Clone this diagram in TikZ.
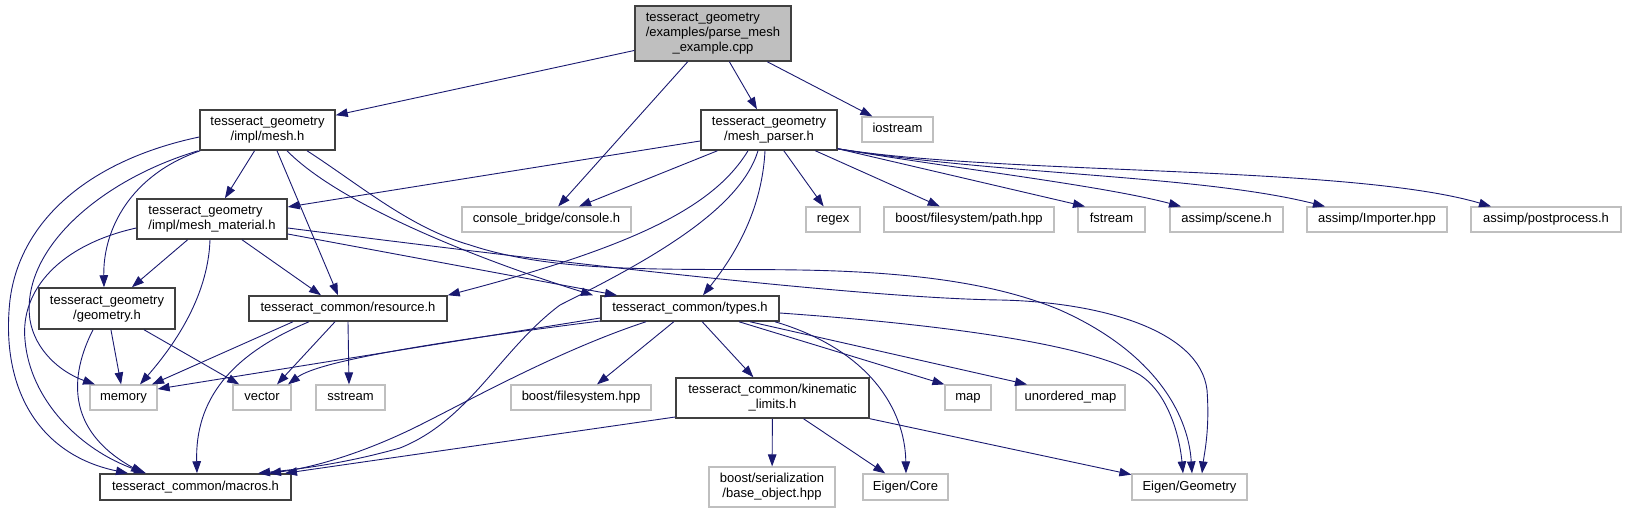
\documentclass[tikz,border=0pt]{standalone}
\usepackage{fontspec}
\setmainfont{Liberation Sans}
\usetikzlibrary{arrows.meta}
\definecolor{edgecol}{HTML}{191970}
\definecolor{rootfill}{HTML}{BFBFBF}
\definecolor{extborder}{HTML}{BFBFBF}
\newcommand{\labtwo}[2]{\begin{tabular}{@{}l@{}}#1\\\multicolumn{1}{@{}c@{}}{#2}\end{tabular}}
\newcommand{\labthree}[3]{\begin{tabular}{@{}l@{}}#1\\#2\\\multicolumn{1}{@{}c@{}}{#3}\end{tabular}}
\tikzset{
  basebox/.style={draw, inner sep=0pt, font=\fontsize{13}{15}\selectfont, line width=1.2pt},
  intn/.style={basebox, draw=black!75, line width=1.5pt, fill=white},
  rootn/.style={basebox, draw=black!75, line width=1.5pt, fill=rootfill},
  extn/.style={basebox, draw=extborder, fill=white, minimum height=25pt},
  oneline/.style={text height=9.5pt, text depth=3.5pt},
  e/.style={draw=edgecol, line width=0.9pt, -{Triangle[length=12pt,width=8.5pt]}},
}
\begin{document}
\begin{tikzpicture}[x=1pt,y=-1pt]
\useasboundingbox (0,0) rectangle (1627,513);
% nodes
\node[rootn, minimum width=156pt, minimum height=55pt] (root) at (713,33.5) {\labthree{tesseract\_geometry}{/examples/parse\_mesh}{\_example.cpp}};
\node[intn, minimum width=135pt, minimum height=40pt] (meshh) at (267.5,130) {\labtwo{tesseract\_geometry}{/impl/mesh.h}};
\node[intn, minimum width=136pt, minimum height=40pt] (parser) at (769,130) {\labtwo{tesseract\_geometry}{/mesh\_parser.h}};
\node[extn, oneline, minimum width=71pt] (iostream) at (897.5,129.5) {iostream};
\node[intn, minimum width=150pt, minimum height=40pt] (material) at (212,219) {\labtwo{tesseract\_geometry}{/impl/mesh\_material.h}};
\node[extn, oneline, minimum width=169pt] (console) at (546.5,219.5) {console\_bridge/console.h};
\node[extn, oneline, minimum width=54pt] (regex) at (833,219.5) {regex};
\node[extn, oneline, minimum width=170pt] (path) at (969,219.5) {boost/filesystem/path.hpp};
\node[extn, oneline, minimum width=67pt] (fstream) at (1111.5,219.5) {fstream};
\node[extn, oneline, minimum width=113pt] (scene) at (1226.5,219.5) {assimp/scene.h};
\node[extn, oneline, minimum width=140pt] (importer) at (1377,219.5) {assimp/Importer.hpp};
\node[extn, oneline, minimum width=150pt] (post) at (1546,219.5) {assimp/postprocess.h};
\node[intn, minimum width=136pt, minimum height=41pt] (geometry) at (107,308.5) {\labtwo{tesseract\_geometry}{/geometry.h}};
\node[intn, oneline, minimum width=198pt, minimum height=25pt] (resource) at (348,308.5) {tesseract\_common/resource.h};
\node[intn, oneline, minimum width=178pt, minimum height=25pt] (types) at (690,308.5) {tesseract\_common/types.h};
\node[extn, oneline, minimum width=67pt] (memory) at (123.5,397.5) {memory};
\node[extn, oneline, minimum width=58pt] (vector) at (262,397.5) {vector};
\node[extn, oneline, minimum width=69pt] (sstream) at (350.5,397.5) {sstream};
\node[extn, oneline, minimum width=140pt] (bfs) at (581,397.5) {boost/filesystem.hpp};
\node[intn, minimum width=193pt, minimum height=40pt] (kin) at (772.5,398) {\labtwo{tesseract\_common/kinematic}{\_limits.h}};
\node[extn, oneline, minimum width=46pt] (map) at (968,397.5) {map};
\node[extn, oneline, minimum width=109pt] (umap) at (1070.5,397.5) {unordered\_map};
\node[intn, oneline, minimum width=191pt, minimum height=26pt] (macros) at (195.5,487) {tesseract\_common/macros.h};
\node[extn, minimum width=126pt, minimum height=40pt] (base) at (772,487) {\labtwo{boost/serialization}{/base\_object.hpp}};
\node[extn, oneline, minimum width=85pt, minimum height=26pt] (core) at (905.5,487) {Eigen/Core};
\node[extn, oneline, minimum width=115pt, minimum height=26pt] (egeo) at (1189.5,487) {Eigen/Geometry};
% root edges
\draw[e] (root) -- (meshh);
\draw[e] (root) -- (console);
\draw[e] (root) -- (parser);
\draw[e] (root) -- (iostream);
% mesh.h edges
\draw[e] (meshh) -- (material);
\draw[e] (277,0 |- meshh.south) -- (338,0 |- resource.north);
\draw[e] (287,0 |- meshh.south) .. controls (340,205) and (480,260) .. (593,0 |- types.north);
\draw[e] (307,0 |- meshh.south) .. controls (360,185) and (410,228) .. (470,245) .. controls (560,275) and (680,268) .. (800,270) .. controls (920,272) and (1000,285) .. (1060,310) .. controls (1150,350) and (1188,410) .. (1192,0 |- egeo.north);
\draw[e] ([xshift=1pt]meshh.south west) .. controls (130,175) and (103,230) .. (104,0 |- geometry.north);
\draw[e] ([xshift=-1pt]meshh.south west) .. controls (100,180) and (20,250) .. (30,320) .. controls (35,350) and (60,372) .. (95,0 |- memory.north);
\draw[e] (meshh.west |- 0,137) .. controls (90,160) and (20,220) .. (10,300) .. controls (0,390) and (40,455) .. (128,0 |- macros.north);
% mesh_material edges
\draw[e] (material) -- (geometry);
\draw[e] (210,0 |- material.south) .. controls (208,300) and (170,350) .. (140,0 |- memory.north);
\draw[e] (242,0 |- material.south) -- (321,0 |- resource.north);
\draw[e] (material.west |- 0,228) .. controls (60,245) and (20,290) .. (25,340) .. controls (30,400) and (80,450) .. (146,0 |- macros.north);
\draw[e] (material.east |- 0,234) -- (617,0 |- types.north);
\draw[e] (material.east |- 0,228) .. controls (500,255) and (850,298) .. (1000,300) .. controls (1100,302) and (1200,330) .. (1207,390) .. controls (1210,430) and (1204,455) .. (1202,0 |- egeo.north);
% mesh_parser edges
\draw[e] (parser) -- (material);
\draw[e] (parser) -- (console);
\draw[e] (748,0 |- parser.south) .. controls (715,205) and (640,245) .. (resource.north east);
\draw[e] (758,0 |- parser.south) .. controls (740,210) and (650,260) .. (560,305) .. controls (500,350) and (470,420) .. (400,448) .. controls (340,465) and (290,470) .. (258,0 |- macros.north);
\draw[e] (765,0 |- parser.south) .. controls (762,210) and (735,255) .. (703,0 |- types.north);
\draw[e] (parser) -- (regex);
\draw[e] (parser) -- (path);
\draw[e] ([yshift=2pt]parser.south east) -- (1085,0 |- fstream.north);
\draw[e] ([yshift=2pt]parser.south east) .. controls (950,168) and (1100,185) .. (1181,0 |- scene.north);
\draw[e] ([yshift=2pt]parser.south east) .. controls (1000,175) and (1200,175) .. (1325,0 |- importer.north);
\draw[e] ([yshift=2pt]parser.south east) .. controls (1000,175) and (1350,165) .. (1491,0 |- post.north);
% geometry edges
\draw[e] (geometry) -- (memory);
\draw[e] (geometry) -- (vector);
\draw[e] (93,0 |- geometry.south) .. controls (70,375) and (65,430) .. (143,0 |- macros.north);
% resource edges
\draw[e] (293,0 |- resource.south) -- (152,0 |- memory.north);
\draw[e] (309,0 |- resource.south) .. controls (230,355) and (195,400) .. (197,0 |- macros.north);
\draw[e] (335,0 |- resource.south) -- (277,0 |- vector.north);
\draw[e] (348,0 |- resource.south) -- (349,0 |- sstream.north);
% types edges
\draw[e] (types.west |- 0,318) -- (memory.east |- 0,389);
\draw[e] (types.west |- 0,321) .. controls (450,340) and (320,360) .. (288,0 |- vector.north);
\draw[e] (646,0 |- types.south) .. controls (560,350) and (470,400) .. (420,425) .. controls (360,455) and (310,468) .. (269,0 |- macros.north);
\draw[e] (types) -- (bfs);
\draw[e] (types) -- (kin);
\draw[e] (739,0 |- types.south) -- (map.north west);
\draw[e] (750,0 |- types.south) -- (1027,0 |- umap.north);
\draw[e] (775,0 |- types.south) .. controls (870,350) and (905,410) .. (906,0 |- core.north);
\draw[e] (types.east |- 0,313) .. controls (950,325) and (1090,345) .. (1140,375) .. controls (1170,395) and (1180,440) .. (1183,0 |- egeo.north);
% kinematic_limits edges
\draw[e] (kin.west |- 0,417) -- (285,0 |- macros.north);
\draw[e] (kin) -- (base);
\draw[e] (kin) -- (core);
\draw[e] (kin) -- (egeo);
\end{tikzpicture}
\end{document}
